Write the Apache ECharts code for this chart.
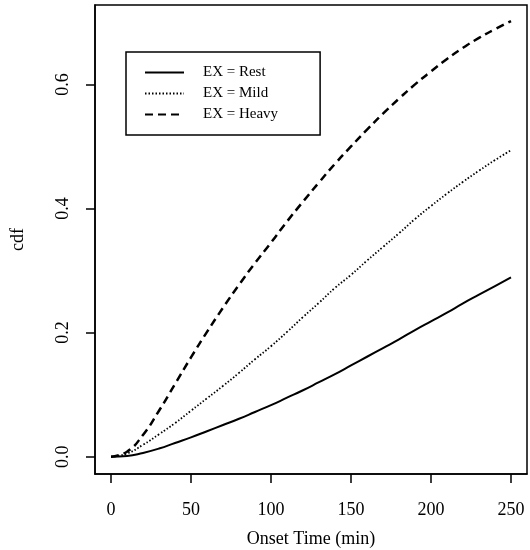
<!DOCTYPE html>
<html>
<head>
<meta charset="utf-8">
<script src="https://cdn.jsdelivr.net/npm/echarts@6/dist/echarts.min.js"></script>
<style>html,body{margin:0;padding:0;background:#fff}#c{width:530px;height:550px}</style>
</head>
<body>
<div id="c"></div>
<script>
var times = [0,10,20,30,40,50,60,70,80,90,100,110,120,130,140,150,160,170,180,190,200,210,220,230,240,250];
var rest  = [0,0.001,0.006,0.013,0.022,0.031,0.041,0.051,0.061,0.072,0.083,0.095,0.107,0.120,0.133,0.147,0.161,0.175,0.189,0.204,0.218,0.232,0.247,0.261,0.275,0.289];
var mild  = [0,0.005,0.019,0.036,0.054,0.074,0.094,0.114,0.135,0.157,0.178,0.201,0.225,0.248,0.272,0.293,0.316,0.338,0.360,0.383,0.404,0.424,0.443,0.461,0.478,0.494];
var heavy = [0,0.008,0.035,0.074,0.117,0.160,0.201,0.240,0.277,0.312,0.345,0.379,0.411,0.442,0.472,0.500,0.527,0.553,0.577,0.600,0.621,0.641,0.659,0.675,0.689,0.702];
var seriesNames = ['EX = Rest','EX = Mild','EX = Heavy'];
var xTicks = [0,50,100,150,200,250];
var yTicks = [0,0.2,0.4,0.6];

function pairs(ys){ return times.map(function(t,i){ return [t, ys[i]]; }); }

var font = 'Liberation Serif';
var chart = echarts.init(document.getElementById('c'));
chart.setOption({
  animation: false,
  backgroundColor: '#fff',
  color: ['#000','#000','#000'],
  textStyle: { fontFamily: font, color: '#000' },
  grid: { left: 95, right: 3, top: 5, bottom: 76, show: true, borderColor: '#000', borderWidth: 1.5,
    backgroundColor: 'transparent', containLabel: false, outerBoundsMode: 'none' },
  legend: {
    orient: 'vertical', left: 126, top: 52,
    data: seriesNames,
    itemWidth: 39, itemHeight: 14, itemGap: 6,
    padding: [13, 42, 13, 18],
    borderColor: '#000', borderWidth: 1.5,
    itemStyle: { opacity: 0 },
    textStyle: { fontFamily: font, fontSize: 15, color: '#000', padding: [0,0,0,14] }
  },
  xAxis: {
    type: 'value', min: -10, max: 260,
    name: 'Onset Time (min)', nameLocation: 'middle', nameGap: 56,
    nameTextStyle: { fontFamily: font, fontSize: 18, color: '#000' },
    axisLine: { show: true, onZero: false, lineStyle: { color: '#000', width: 1.5 } },
    axisTick: { show: true, inside: false, length: 9, lineStyle: { color: '#000', width: 1.5 }, customValues: xTicks },
    axisLabel: { fontFamily: font, fontSize: 18, color: '#000', margin: 27, customValues: xTicks },
    splitLine: { show: false }
  },
  yAxis: {
    type: 'value', min: -0.028, max: 0.728,
    name: 'cdf', nameLocation: 'middle', nameGap: 68, nameRotate: 90,
    nameTextStyle: { fontFamily: font, fontSize: 18, color: '#000' },
    axisLine: { show: true, onZero: false, lineStyle: { color: '#000', width: 1.5 } },
    axisTick: { show: true, inside: false, length: 9, lineStyle: { color: '#000', width: 1.5 }, customValues: yTicks },
    axisLabel: { fontFamily: font, fontSize: 18, color: '#000', margin: 23, rotate: 90, customValues: yTicks,
      formatter: function(v){ return v.toFixed(1); } },
    splitLine: { show: false }
  },
  series: [
    { name: seriesNames[0], type: 'line', symbol: 'none', smooth: true, data: pairs(rest),
      itemStyle: { color: '#000' },
      lineStyle: { color: '#000', width: 2, type: 'solid' } },
    { name: seriesNames[1], type: 'line', symbol: 'none', smooth: true, data: pairs(mild),
      itemStyle: { color: '#000' },
      lineStyle: { color: '#000', width: 1.8, type: [1.5, 2] } },
    { name: seriesNames[2], type: 'line', symbol: 'none', smooth: true, data: pairs(heavy),
      itemStyle: { color: '#000' },
      lineStyle: { color: '#000', width: 2.5, type: [8, 5] } }
  ]
});
</script>
</body>
</html>
